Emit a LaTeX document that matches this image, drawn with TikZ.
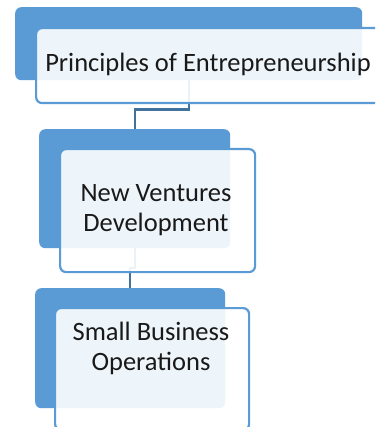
\documentclass[tikz,border=0pt]{standalone}
\usepackage{fontspec}
\setmainfont{Carlito}
\usetikzlibrary{calc}
\definecolor{accent}{HTML}{5B9BD5}
\definecolor{linkc}{HTML}{41719C}
\tikzset{
  backbox/.style={draw=none, fill=accent, rounded corners=6pt, anchor=north west, inner sep=0pt},
  frontbox/.style={draw=accent, line width=2.2pt, fill=white, fill opacity=0.9, rounded corners=6pt, anchor=north west, inner sep=0pt},
  label/.style={font=\fontsize{26.5}{29.5}\selectfont, text=black!90, align=center, anchor=base, inner sep=0pt},
  link/.style={draw=linkc, line width=2.2pt}
}
\begin{document}
\begin{tikzpicture}[x=1pt,y=-1pt]
\clip (0,0) rectangle (375,427);
\fill[white] (0,0) rectangle (375,427);
% back boxes
\node[backbox, minimum width=347pt, minimum height=73pt] (b1) at (15,7) {};
\node[backbox, minimum width=191pt, minimum height=119pt] (b2) at (39,129) {};
\node[backbox, minimum width=190pt, minimum height=120pt] (b3) at (35,288) {};
% connectors
\draw[link] (b1.south) |- ($(b1.south)!0.6!(b2.north)$) -| (b2.north);
\draw[link] (b2.south) |- ($(b2.south)!0.5!(b3.north)$) -| (b3.north);
% front boxes
\node[frontbox, minimum width=346pt, minimum height=75pt] (f1) at (35,27) {};
\node[frontbox, minimum width=195pt, minimum height=123pt] (f2) at (59,148) {};
\node[frontbox, minimum width=194pt, minimum height=122pt] (f3) at (54,307) {};
% texts
\node[label] (t1) at (208,72) {Principles of Entrepreneurship};
\node[label] (t2) at (156,231) {New Ventures\\Development};
\node[label] (t3) at (151,370) {Small Business\\Operations};
\end{tikzpicture}
\end{document}
